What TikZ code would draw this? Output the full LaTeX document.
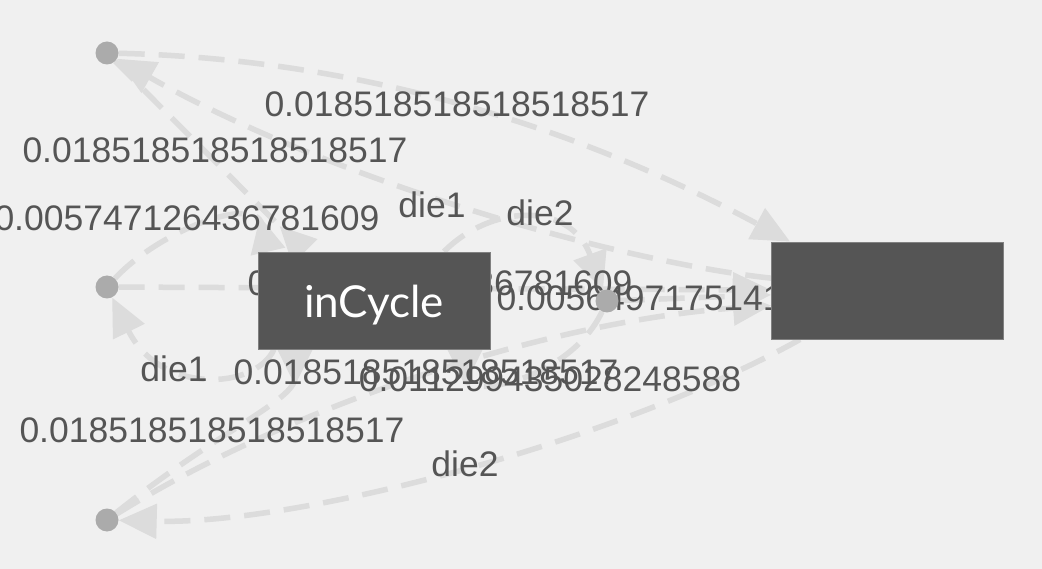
\documentclass[tikz,border=0pt]{standalone}
\usepackage{fontspec}
\setmainfont{Liberation Sans}
\newfontfamily\latofont{Lato}
\usetikzlibrary{arrows.meta,positioning,backgrounds}
\definecolor{bggray}{HTML}{F0F0F0}
\definecolor{edgegray}{HTML}{DCDCDC}
\definecolor{dotgray}{HTML}{ABABAB}
\definecolor{boxgray}{HTML}{555555}
\definecolor{boxline}{HTML}{808080}
\definecolor{txtgray}{HTML}{555555}

\begin{document}
\begin{tikzpicture}[x=1pt,y=-1pt,
  act/.style={circle, fill=dotgray, minimum size=23pt, inner sep=0pt},
  st/.style={rectangle, fill=boxgray, draw=boxline, line width=0.8pt,
    minimum width=232pt, minimum height=97pt, text=white,
    font=\latofont\fontsize{44}{50}\selectfont},
  tr/.style={draw=edgegray, line width=5.5pt, dash pattern=on 26pt off 14pt,
    -{Triangle[length=38pt,width=34pt]}},
  rev/.style={-{Triangle[length=36pt,width=34pt,reversed]}},
  lbl/.style={text=txtgray, font=\fontsize{35.5}{40}\selectfont, inner sep=0pt}]
\useasboundingbox (0,0) rectangle (1042,569);
% action points
\node[act] (a1) at (107,53) {};
\node[act] (a2) at (107,287) {};
\node[act] (a3) at (107,520) {};
\node[act] (a4) at (607,301) {};
% states
\node[st] (cyc) at (374,300.5) {\raisebox{-5pt}[\height][\depth]{inCycle}};
\node[st] (goal) at (887.5,290.5) {};
\begin{scope}[on background layer]
\fill[bggray] (0,0) rectangle (1042,569);
% transitions
\draw[tr] (a1) .. controls (400,60) and (620,150) .. ([xshift=19pt]goal.north west);
\draw[tr, rev] (a1) -- ([xshift=-69pt]cyc.north);
\draw[tr, rev] (a2) .. controls (160,230) and (255,195) .. ([xshift=-106pt]cyc.north);
\draw[tr] (goal) .. controls (620,262) and (330,180) .. (a1);
\draw[tr] ([xshift=70pt]cyc.north) .. controls (490,205) and (570,200) .. (a4);
\draw[tr] (a2) -- (goal);
\draw[tr] (a4) -- (goal);
\draw[tr] ([xshift=-100pt]cyc.south) .. controls (255,390) and (160,395) .. (a2);
\draw[tr, rev] (a3) .. controls (220,430) and (295,400) .. ([xshift=-79pt]cyc.south);
\draw[tr] (a3) .. controls (300,400) and (560,320) .. ([yshift=-15pt]goal.west);
\draw[tr, rev] (a4) .. controls (570,380) and (465,400) .. ([xshift=91pt]cyc.south);
\draw[tr] (goal) .. controls (620,440) and (300,525) .. (a3);
% labels
\node[lbl] (p1) at (457,104) {0.018518518518518517};
\node[lbl] (p2) at (215,150) {0.018518518518518517};
\node[lbl] (p3) at (187,218) {0.005747126436781609};
\node[lbl] (d1) at (432,205) {die1};
\node[lbl] (d2) at (540,213) {die2};
\node[lbl] (p4) at (440,283) {0.005747126436781609};
\node[lbl] (p5) at (689,298) {0.005649717514124294};
\node[lbl] (d3) at (174,369) {die1};
\node[lbl] (p6) at (426,372) {0.018518518518518517};
\node[lbl] (p7) at (550,379) {0.011299435028248588};
\node[lbl] (p8) at (212,430) {0.018518518518518517};
\node[lbl] (d4) at (465,464) {die2};
\end{scope}
\end{tikzpicture}
\end{document}
